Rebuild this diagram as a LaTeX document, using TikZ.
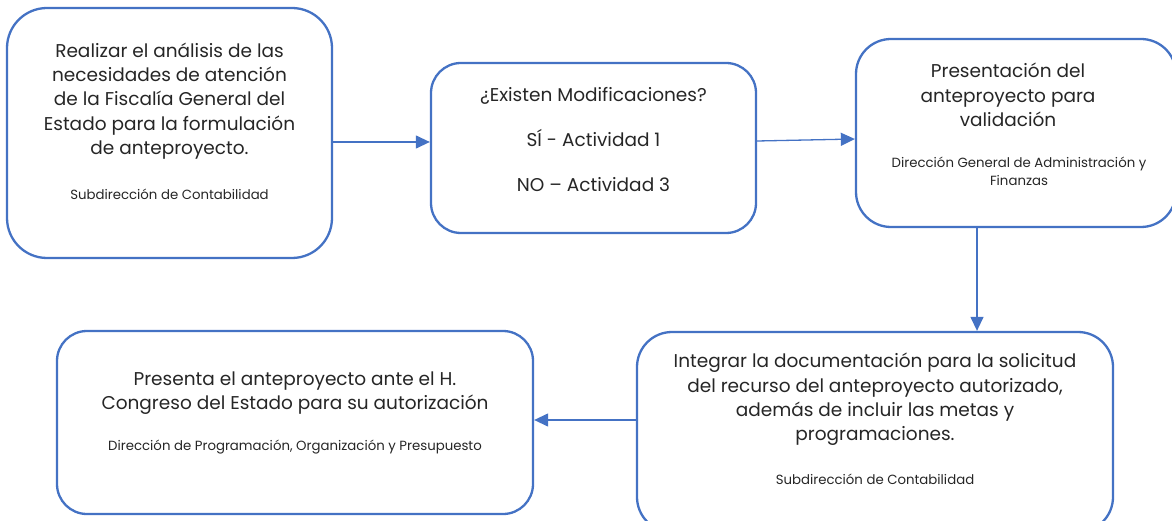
\documentclass[tikz,border=0pt]{standalone}
\usepackage{fontspec}
\setmainfont{Poppins}
\usetikzlibrary{arrows.meta}
\definecolor{lineblue}{HTML}{4472C4}
\definecolor{txt}{HTML}{262626}
\tikzset{
  box/.style={draw=lineblue, line width=2.3pt, fill=white, inner sep=0pt},
  arr/.style={draw=lineblue, line width=1.3pt, -{Triangle[length=14pt,width=13pt]}},
  big/.style={text=txt, align=center, inner sep=0pt, font=\fontsize{18.5}{24.3}\selectfont},
  small/.style={text=txt, align=center, inner sep=0pt, font=\fontsize{13.3}{18}\selectfont},
}
\begin{document}
\begin{tikzpicture}[x=1pt,y=-1pt]
\useasboundingbox (0,0) rectangle (1172,521);
\begin{scope}
\clip (0,0) rectangle (1172,521);
\node[box, minimum width=325pt, minimum height=250pt, rounded corners=40pt] (b1) at (169.5,133) {};
\node[box, minimum width=325pt, minimum height=170pt, rounded corners=30pt] (b2) at (593.5,148) {};
\node[box, minimum width=320pt, minimum height=188pt, rounded corners=35pt] (b3) at (1016,133) {};
\node[box, minimum width=476pt, minimum height=200pt, rounded corners=35pt] (b4) at (875,432) {};
\node[box, minimum width=476pt, minimum height=183pt, rounded corners=30pt] (b5) at (295,422.5) {};

\node[big] (t1) at (169.5,101) {Realizar el análisis de las\\necesidades de atención\\de la Fiscalía General del\\Estado para la formulación\\de anteproyecto.};
\node[small] (s1) at (169.5,194) {Subdirección de Contabilidad};

\node[big, font=\fontsize{18.5}{45}\selectfont] (t2) at (593.5,140) {¿Existen Modificaciones?\\SÍ - Actividad 1\\NO – Actividad 3};

\node[big] (t3) at (1008,95) {Presentación del\\anteproyecto para\\validación};
\node[small] (s3) at (1019,171) {Dirección General de Administración y\\Finanzas};

\node[big] (t4) at (875,399.5) {Integrar la documentación para la solicitud\\del recurso del anteproyecto autorizado,\\además de incluir las metas y\\programaciones.};
\node[small] (s4) at (875,479) {Subdirección de Contabilidad};

\node[big] (t5) at (295,393) {Presenta el anteproyecto ante el H.\\Congreso del Estado para su autorización};
\node[small] (s5) at (295,447) {Dirección de Programación, Organización y Presupuesto};

\draw[arr] (b1.east |- 0,142) -- (b2.west |- 0,142);
\draw[arr] (b2.east |- 0,141) -- (b3.west |- 0,139);
\draw[arr] (b3.south -| 977,0) -- (b4.north -| 977,0);
\draw[arr] (b4.west |- 0,420) -- (b5.east |- 0,420);
\end{scope}
\end{tikzpicture}
\end{document}
